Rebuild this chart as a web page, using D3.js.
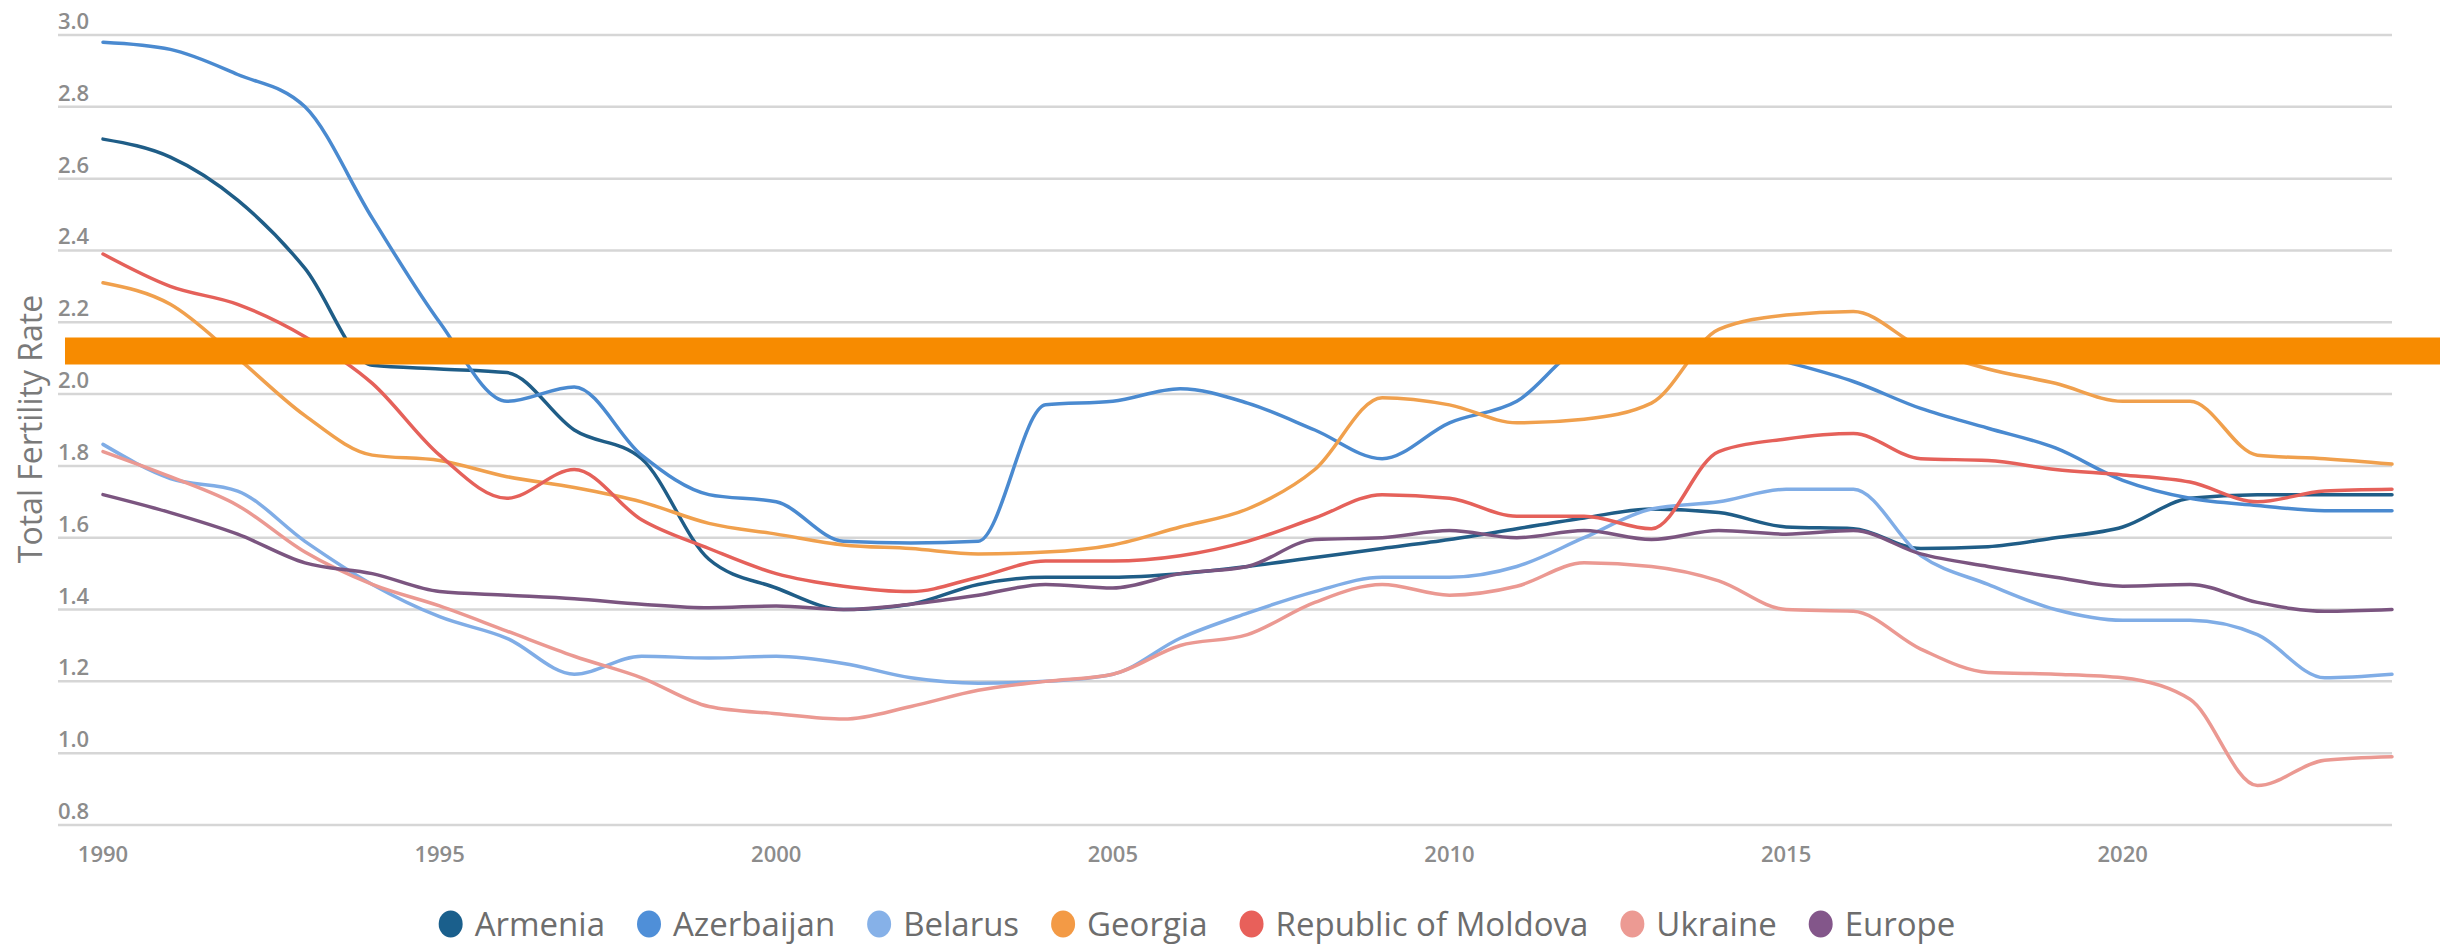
<!DOCTYPE html>
<html>
<head>
<meta charset="utf-8">
<script src="https://cdn.jsdelivr.net/npm/d3@7"></script>
<style>
  html, body { margin: 0; padding: 0; background: #ffffff; }
  svg { display: block; }
</style>
</head>
<body>
<svg id="chart" width="2440" height="947"></svg>
<script>
// ---------------- DATA ----------------
const years = d3.range(1990, 2025);
const seriesNames = ["Armenia", "Azerbaijan", "Belarus", "Georgia", "Republic of Moldova", "Ukraine", "Europe"];

const armenia = [2.71, 2.66, 2.54, 2.35, 2.08, 2.07, 2.06, 1.90, 1.82, 1.54, 1.46, 1.40, 1.415, 1.47, 1.49, 1.49, 1.50, 1.52, 1.545, 1.57, 1.595, 1.625, 1.655, 1.68, 1.67, 1.63, 1.625, 1.57, 1.575, 1.60, 1.63, 1.71, 1.72, 1.72, 1.72];
const azerbaijan = [2.98, 2.96, 2.89, 2.80, 2.49, 2.20, 1.98, 2.02, 1.83, 1.72, 1.70, 1.59, 1.585, 1.59, 1.97, 1.98, 2.015, 1.975, 1.90, 1.82, 1.92, 1.98, 2.13, 2.15, 2.14, 2.09, 2.035, 1.96, 1.905, 1.85, 1.76, 1.71, 1.69, 1.675, 1.675];
const belarus = [1.86, 1.765, 1.73, 1.59, 1.47, 1.38, 1.32, 1.22, 1.27, 1.265, 1.27, 1.25, 1.21, 1.195, 1.20, 1.22, 1.32, 1.39, 1.45, 1.49, 1.49, 1.52, 1.60, 1.68, 1.70, 1.735, 1.735, 1.55, 1.47, 1.40, 1.37, 1.37, 1.33, 1.21, 1.22];
const georgia = [2.31, 2.25, 2.10, 1.94, 1.83, 1.815, 1.77, 1.74, 1.70, 1.64, 1.61, 1.58, 1.57, 1.555, 1.56, 1.58, 1.63, 1.68, 1.79, 1.99, 1.97, 1.92, 1.93, 1.975, 2.18, 2.22, 2.23, 2.13, 2.07, 2.03, 1.98, 1.98, 1.83, 1.82, 1.805];
const moldova = [2.39, 2.30, 2.25, 2.16, 2.03, 1.83, 1.71, 1.79, 1.65, 1.57, 1.50, 1.465, 1.45, 1.49, 1.535, 1.535, 1.55, 1.59, 1.655, 1.72, 1.71, 1.66, 1.66, 1.625, 1.84, 1.875, 1.89, 1.82, 1.815, 1.79, 1.775, 1.755, 1.70, 1.73, 1.735];
const ukraine = [1.84, 1.77, 1.69, 1.56, 1.47, 1.41, 1.34, 1.27, 1.21, 1.13, 1.11, 1.095, 1.13, 1.175, 1.20, 1.22, 1.30, 1.33, 1.42, 1.47, 1.44, 1.465, 1.53, 1.52, 1.48, 1.40, 1.395, 1.29, 1.225, 1.22, 1.21, 1.15, 0.91, 0.98, 0.99];
const europe = [1.72, 1.67, 1.61, 1.53, 1.50, 1.45, 1.44, 1.43, 1.415, 1.405, 1.41, 1.40, 1.415, 1.44, 1.47, 1.46, 1.50, 1.52, 1.595, 1.60, 1.62, 1.60, 1.62, 1.595, 1.62, 1.61, 1.62, 1.555, 1.52, 1.49, 1.465, 1.47, 1.42, 1.395, 1.40];

const replacementLevel = 2.12;
const yTicks = [0.8, 1.0, 1.2, 1.4, 1.6, 1.8, 2.0, 2.2, 2.4, 2.6, 2.8, 3.0];
const xTicks = [1990, 1995, 2000, 2005, 2010, 2015, 2020];
const yAxisTitle = "Total Fertility Rate";

// ---------------- STYLE ----------------
const seriesValues = [armenia, azerbaijan, belarus, georgia, moldova, ukraine, europe];
const lineColors = ["#1f5d87", "#4a8ad0", "#80ade6", "#f0a04d", "#e5615a", "#eb9992", "#7b5580"];
const legendColors = ["#1a5f8c", "#4f8fd8", "#86b1e8", "#f39a45", "#e8605a", "#ec9a93", "#83568a"];

const svg = d3.select("#chart");
const x = d3.scaleLinear().domain([1990, 2024]).range([103, 2392]);
const y = d3.scaleLinear().domain([0.8, 3.0]).range([825, 35]);
const gridLeft = 58, gridRight = 2392;
const font = "'Open Sans', 'DejaVu Sans', sans-serif";

// grid
const grid = svg.append("g");
grid.selectAll("line").data(yTicks).join("line")
  .attr("x1", gridLeft).attr("x2", gridRight)
  .attr("y1", d => y(d)).attr("y2", d => y(d))
  .attr("stroke", "#d6d6d6").attr("stroke-width", 2.5);

// y tick labels
svg.append("g").selectAll("text").data(yTicks).join("text")
  .attr("x", gridLeft).attr("y", d => y(d) - 6)
  .attr("font-family", font).attr("font-size", 22).attr("font-weight", 600)
  .attr("fill", "#8c8c8c")
  .text(d => d3.format(".1f")(d));

// x tick labels
svg.append("g").selectAll("text").data(xTicks).join("text")
  .attr("x", d => x(d)).attr("y", 862)
  .attr("text-anchor", "middle")
  .attr("font-family", font).attr("font-size", 22).attr("font-weight", 600)
  .attr("fill", "#8c8c8c")
  .text(d => d);

// y axis title
svg.append("text")
  .attr("transform", "translate(42,429) rotate(-90)")
  .attr("text-anchor", "middle")
  .attr("font-family", font).attr("font-size", 32)
  .attr("fill", "#7a7a7a")
  .text(yAxisTitle);

// lines
const line = d3.line()
  .x((d, i) => x(years[i]))
  .y(d => y(d))
  .curve(d3.curveMonotoneX);

svg.append("g").selectAll("path").data(seriesValues).join("path")
  .attr("d", d => line(d))
  .attr("fill", "none")
  .attr("stroke", (d, i) => lineColors[i])
  .attr("stroke-width", 3.5)
  .attr("stroke-linejoin", "round")
  .attr("stroke-linecap", "round");

// replacement band
svg.append("line")
  .attr("x1", 65).attr("x2", 2440)
  .attr("y1", y(replacementLevel)).attr("y2", y(replacementLevel))
  .attr("stroke", "#f78b00").attr("stroke-width", 27);

// legend
const legend = svg.append("g");
const legendY = 924;
const items = legend.selectAll("g").data(seriesNames).join("g");
items.append("ellipse")
  .attr("rx", 12).attr("ry", 13.5).attr("cy", legendY)
  .attr("fill", (d, i) => legendColors[i]);
items.append("text")
  .attr("y", legendY + 11.5)
  .attr("font-family", font).attr("font-size", 33)
  .attr("fill", "#6d6d6d")
  .text(d => d);
let widths = [];
items.each(function() { widths.push(d3.select(this).select("text").node().getComputedTextLength()); });
const dotW = 24, dotGap = 12, itemGap = 32;
const total = d3.sum(widths) + seriesNames.length * (dotW + dotGap) + (seriesNames.length - 1) * itemGap;
let cx = 1197 - total / 2;
items.each(function(d, i) {
  const g = d3.select(this);
  g.select("ellipse").attr("cx", cx + dotW / 2);
  g.select("text").attr("x", cx + dotW + dotGap);
  cx += dotW + dotGap + widths[i] + itemGap;
});
</script>
</body>
</html>
